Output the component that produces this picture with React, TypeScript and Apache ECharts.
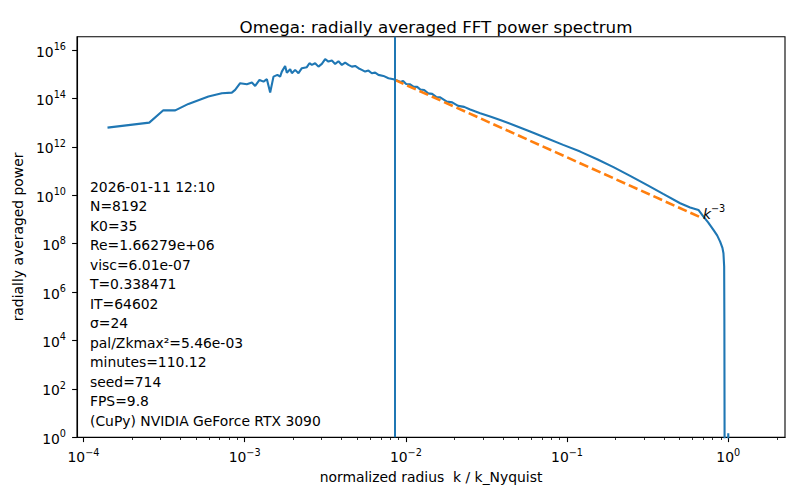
import React, { useEffect, useRef } from 'react';
import * as echarts from 'echarts';

const FONT = "'DejaVu Sans', sans-serif";
const BLUE = '#1f77b4';
const ORANGE = '#ff7f0e';

// Radially averaged spectrum: normalized radius k / k_Nyquist and power
const radius = [
  1.41e-4, 2.56e-4, 3.13e-4, 3.71e-4, 4.48e-4, 5.96e-4, 7.22e-4, 8.33e-4, 8.73e-4, 9.38e-4,
  1.032e-3, 1.109e-3, 1.162e-3, 1.236e-3, 1.309e-3, 1.374e-3, 1.44e-3, 1.51e-3, 1.597e-3, 1.66e-3,
  1.701e-3, 1.783e-3, 1.827e-3, 1.916e-3, 1.963e-3, 2.057e-3, 2.157e-3, 2.264e-3, 2.431e-3, 2.523e-3,
  2.611e-3, 2.737e-3, 2.869e-3, 3.012e-3, 3.158e-3, 3.31e-3, 3.475e-3, 3.643e-3, 3.819e-3, 4.009e-3,
  4.202e-3, 4.405e-3, 4.624e-3, 4.847e-3, 5.08e-3, 5.33e-3, 5.59e-3, 5.86e-3, 6.15e-3, 6.45e-3,
  6.76e-3, 7.26e-3, 7.8e-3, 8.38e-3, 8.83e-3, 9.22e-3, 9.62e-3, 1.004e-2, 1.063e-2, 1.114e-2,
  1.175e-2, 1.227e-2, 1.299e-2, 1.375e-2, 1.456e-2, 1.542e-2, 1.633e-2, 1.796e-2, 1.938e-2, 2.11e-2,
  2.3e-2, 2.506e-2, 2.891e-2, 3.334e-2, 3.846e-2, 4.65e-2, 5.9e-2, 7.49e-2, 9.46e-2, 0.1206,
  0.1537, 0.194, 0.2462, 0.3126, 0.3946, 0.5031, 0.58, 0.6533, 0.7016, 0.7502,
  0.8091, 0.8531, 0.8904, 0.9203, 0.9337, 0.9432, 0.946, 0.948, 0.95, 0.995,
  1.0, 1.005, 1.2, 1.414,
];
const power = [
  6.21e12, 1.0e13, 3.25e13, 3.2e13, 5.93e13, 1.19e14, 1.64e14, 1.74e14, 2.24e14, 4.25e14,
  3.86e14, 4.5e14, 3.29e14, 5.81e14, 4.94e14, 6.21e14, 1.74e14, 7.96e14, 9.36e14, 7.96e14,
  1.28e15, 2.2e15, 1.16e15, 1.61e15, 1.1e15, 1.51e15, 1.1e15, 1.77e15, 1.95e15, 2.85e15,
  2.42e15, 2.85e15, 2.06e15, 2.67e15, 4.17e15, 3.32e15, 3.65e15, 2.67e15, 3.44e15, 2.42e15,
  3.02e15, 2.42e15, 2.06e15, 2.2e15, 1.77e15, 1.51e15, 1.28e15, 1.41e15, 1.1e15, 1.16e15,
  9.36e14, 8.51e14, 6.84e14, 6.21e14, 5.54e14, 4.81e14, 5.29e14, 3.97e14, 3.79e14, 3.08e14,
  2.99e14, 2.35e14, 2.24e14, 1.61e14, 1.54e14, 1.15e14, 1.1e14, 7.38e13, 6.84e13, 4.9e13,
  4.46e13, 3.51e13, 2.45e13, 1.8e13, 1.29e13, 8.04e12, 4.33e12, 2.27e12, 1.2e12, 6.34e11,
  3.08e11, 1.44e11, 6.28e10, 2.67e10, 1.13e10, 4.67e9, 3.13e9, 2.47e9, 1.31e9, 7.52e8,
  3.68e8, 2.18e8, 1.21e8, 6.64e7, 4.01e7, 1.12e7, 7.0e4, 35, 1e-2, 1e-3,
  1.45, 1e-3, 1e-5, 1e-6,
];

// k^-3 reference segment
const refRadius = [8.545e-3, 0.667];
const refPower = [5.8e14, 1.25e9];

// forcing wavenumber K0 / k_Nyquist
const forcingRadius = 35 / 4096;

// axis extents (decades) and tick exponents
const xDecadeRange = [-4.04, 0.352];
const yDecadeRange = [0, 16.55];
const xTickExps = [-4, -3, -2, -1, 0];
const yTickExps = [0, 2, 4, 6, 8, 10, 12, 14, 16];
const xMinorTicks = [
  2e-4, 3e-4, 4e-4, 5e-4, 6e-4, 7e-4, 8e-4, 9e-4,
  2e-3, 3e-3, 4e-3, 5e-3, 6e-3, 7e-3, 8e-3, 9e-3,
  2e-2, 3e-2, 4e-2, 5e-2, 6e-2, 7e-2, 8e-2, 9e-2,
  2e-1, 3e-1, 4e-1, 5e-1, 6e-1, 7e-1, 8e-1, 9e-1,
  2,
];

const infoLines = [
  '2026-01-11 12:10',
  'N=8192',
  'K0=35',
  'Re=1.66279e+06',
  'visc=6.01e-07',
  'T=0.338471',
  'IT=64602',
  'σ=24',
  'pal/Zkmax²=5.46e-03',
  'minutes=110.12',
  'seed=714',
  'FPS=9.8',
  '(CuPy) NVIDIA GeForce RTX 3090',
];

const supText = (e: number) => (e < 0 ? '\u2212' + String(-e) : String(e));

const tickRich = {
  b: { fontFamily: FONT, fontSize: 13.9, color: '#000', lineHeight: 17, verticalAlign: 'bottom' },
  s: { fontFamily: FONT, fontSize: 9.7, color: '#000', lineHeight: 9, verticalAlign: 'top' },
};

export default function App() {
  const ref = useRef<HTMLDivElement>(null);

  useEffect(() => {
    if (!ref.current) return;
    const chart = echarts.init(ref.current, undefined, { renderer: 'svg' });

    const spectrum = radius.map((r, i) => [Math.log10(r), Math.log10(power[i])]);
    const reference = refRadius.map((r, i) => [Math.log10(r), Math.log10(refPower[i])]);

    const option: any = {
      animation: false,
      textStyle: { fontFamily: FONT },
      title: {
        text: 'Omega: radially averaged FFT power spectrum',
        left: 431,
        top: 13,
        textAlign: 'center',
        textStyle: { fontFamily: FONT, fontSize: 16.7, fontWeight: 'normal', color: '#000' },
      },
      grid: {
        left: 77,
        right: 15,
        top: 36.7,
        bottom: 62.8,
        show: true,
        borderColor: '#000',
        borderWidth: 1.1,
        backgroundColor: 'transparent',
        containLabel: false,
        outerBoundsMode: 'none',
      },
      xAxis: [
        {
          type: 'value',
          min: xDecadeRange[0],
          max: xDecadeRange[1],
          name: 'normalized radius  k / k_Nyquist',
          nameLocation: 'middle',
          nameGap: 33,
          nameTextStyle: { fontFamily: FONT, fontSize: 13.9, color: '#000' },
          axisLine: { show: true, onZero: false, lineStyle: { color: '#000', width: 1.1 } },
          axisTick: {
            show: true,
            customValues: xTickExps,
            length: 4.9,
            lineStyle: { color: '#000', width: 1.1 },
          },
          axisLabel: {
            customValues: xTickExps,
            formatter: (v: number) => `{b|10}{s|${supText(Math.round(v))}}`,
            rich: tickRich,
            margin: 10,
          },
          splitLine: { show: false },
        },
        {
          type: 'value',
          min: xDecadeRange[0],
          max: xDecadeRange[1],
          position: 'bottom',
          axisLine: { show: false, onZero: false },
          axisTick: {
            show: true,
            customValues: xMinorTicks.map((v) => Math.log10(v)),
            length: 2.8,
            lineStyle: { color: '#000', width: 0.8 },
          },
          axisLabel: { show: false },
          splitLine: { show: false },
        },
      ],
      yAxis: {
        type: 'value',
        min: yDecadeRange[0],
        max: yDecadeRange[1],
        name: 'radially averaged power',
        nameLocation: 'middle',
        nameGap: 49,
        nameTextStyle: { fontFamily: FONT, fontSize: 13.9, color: '#000' },
        axisLine: { show: true, onZero: false, lineStyle: { color: '#000', width: 1.1 } },
        axisTick: {
          show: true,
          customValues: yTickExps,
          length: 4.9,
          lineStyle: { color: '#000', width: 1.1 },
        },
        axisLabel: {
          customValues: yTickExps,
          formatter: (v: number) => `{b|10}{s|${supText(Math.round(v))}}`,
          rich: tickRich,
          margin: 11,
        },
        splitLine: { show: false },
      },
      graphic: [
        {
          type: 'text',
          x: 90,
          y: 177,
          silent: true,
          style: {
            text: infoLines.join('\n'),
            fill: '#000',
            fontFamily: FONT,
            fontSize: 13.9,
            lineHeight: 19.5,
            align: 'left',
            verticalAlign: 'top',
          },
        },
      ],
      series: [
        {
          name: 'spectrum',
          type: 'line',
          data: spectrum,
          symbol: 'none',
          showSymbol: false,
          clip: true,
          lineStyle: { color: BLUE, width: 2.1 },
          itemStyle: { color: BLUE },
          emphasis: { disabled: true },
          z: 2,
          markLine: {
            silent: true,
            symbol: ['none', 'none'],
            label: { show: false },
            lineStyle: { color: BLUE, width: 2, type: 'solid' },
            emphasis: { disabled: true },
            data: [{ xAxis: Math.log10(forcingRadius) }],
          },
        },
        {
          name: 'k^-3',
          type: 'line',
          data: reference,
          symbol: 'none',
          showSymbol: false,
          clip: true,
          lineStyle: { color: ORANGE, width: 2.6, type: [9.5, 4] },
          itemStyle: { color: ORANGE },
          emphasis: { disabled: true },
          z: 3,
          endLabel: {
            show: true,
            formatter: '{k|k}{s|\u22123}',
            distance: 3,
            offset: [0, -5],
            rich: {
              k: { fontFamily: FONT, fontStyle: 'italic', fontSize: 13.9, color: '#000', lineHeight: 17, verticalAlign: 'bottom' },
              s: { fontFamily: FONT, fontSize: 9.7, color: '#000', lineHeight: 9, verticalAlign: 'top' },
            },
          },
        },
      ],
    };

    chart.setOption(option);
    return () => chart.dispose();
  }, []);

  return (
    <div
      ref={ref}
      style={{ position: 'fixed', left: 0, top: 0, width: 800, height: 500, background: '#fff' }}
    />
  );
}
